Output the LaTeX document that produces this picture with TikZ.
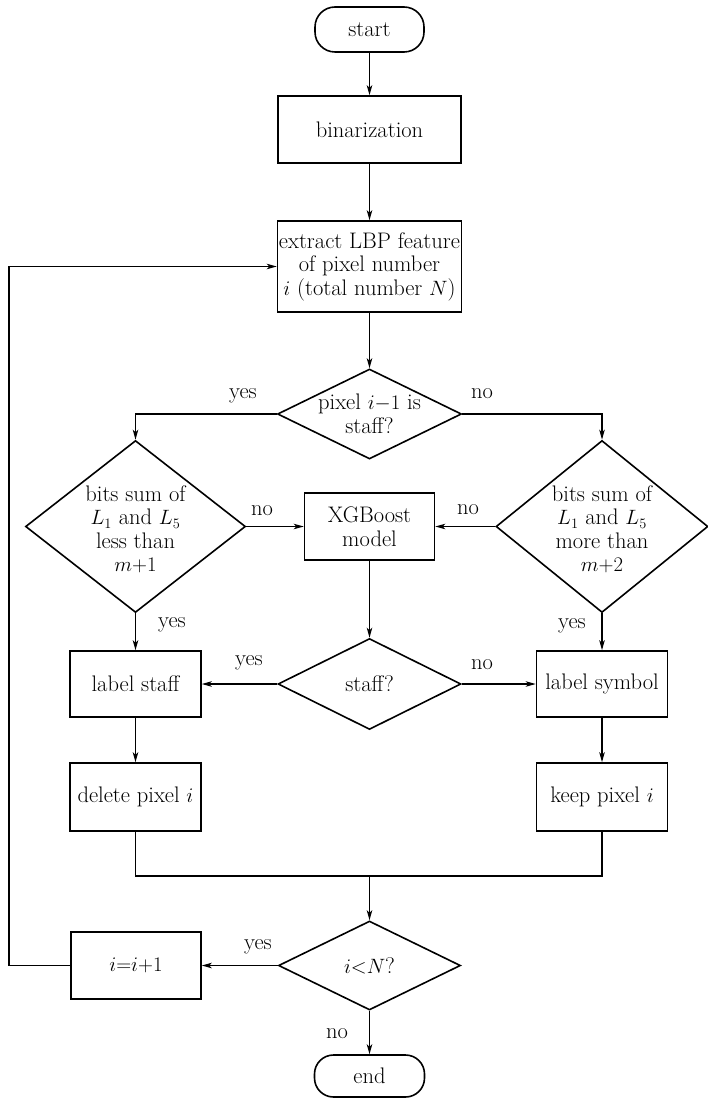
\documentclass[tikz,border=0pt]{standalone}
\usetikzlibrary{shapes.geometric,arrows.meta}
\begin{document}
\begin{tikzpicture}[x=1pt,y=1pt,
  every node/.style={font=\fontsize{22.5}{23.5}\selectfont},
  box/.style={draw,line width=1.6pt,rectangle,inner sep=0pt,align=center},
  term/.style={draw,line width=1.6pt,rectangle,rounded corners=20pt,inner sep=0pt},
  dia/.style={draw,line width=1.6pt,diamond,inner sep=0pt},
  txt/.style={align=center,inner sep=0pt},
  arr/.style={line width=1.2pt,-{Stealth[length=10pt,width=5.5pt,inset=2.5pt]}},
  ln/.style={line width=1.2pt},
  lab/.style={inner sep=0pt}]
\useasboundingbox (0,0) rectangle (708,-1099);
\node[term,minimum width=109pt,minimum height=45pt] (start) at (369.5,-29.5) {start};
\node[box,minimum width=183pt,minimum height=67pt] (bin) at (369.5,-129.5) {binarization};
\node[box,minimum width=184pt,minimum height=91pt] (ext) at (369.5,-266.5) {extract LBP feature\\of pixel number\\$i$ (total number $N$)};
\node[dia,minimum width=184pt,minimum height=90pt] (d1) at (369.5,-414) {};
\node[txt] (d1t) at (d1) {pixel $i{-}1$ is\\staff?};
\node[dia,minimum width=220pt,minimum height=172pt] (dL) at (135.5,-526.5) {};
\node[txt] (dLt) at ([yshift=-3pt]dL.center) {bits sum of\\$L_1$ and $L_5$\\less than\\$m{+}1$};
\node[dia,minimum width=212pt,minimum height=172pt] (dR) at (602,-526.5) {};
\node[txt] (dRt) at ([yshift=-3pt]dR.center) {bits sum of\\$L_1$ and $L_5$\\more than\\$m{+}2$};
\node[box,minimum width=130pt,minimum height=67pt] (xgb) at (369.5,-526.5) {XGBoost\\model};
\node[dia,minimum width=183pt,minimum height=91pt] (d2) at (369.5,-684) {};
\node[txt] (d2t) at (d2) {staff?};
\node[box,minimum width=131pt,minimum height=66pt] (ls) at (135.5,-684) {label staff};
\node[box,minimum width=131pt,minimum height=66pt] (sym) at (602,-684) {label symbol};
\node[box,minimum width=131pt,minimum height=68pt] (del) at (135.5,-797) {delete pixel $i$};
\node[box,minimum width=131pt,minimum height=68pt] (keep) at (602,-797) {keep pixel $i$};
\node[dia,minimum width=182pt,minimum height=89pt] (d3) at (369.5,-965.5) {};
\node[txt] (d3t) at (d3) {$i{<}N$?};
\node[box,minimum width=130pt,minimum height=67pt] (inc) at (136,-965.5) {$i{=}i{+}1$};
\node[term,minimum width=110pt,minimum height=42pt,rounded corners=19pt] (end) at (369.5,-1076) {end};
\coordinate (mj) at (369.5,-876);
\coordinate (lp) at (9,-965.5);
\draw[arr] (start) -- (bin);
\draw[arr] (bin) -- (ext);
\draw[arr] (ext) -- (d1);
\draw[arr] (d1.west) -| (dL.north);
\draw[arr] (d1.east) -| (dR.north);
\draw[arr] (dL.east) -- (xgb.west);
\draw[arr] (dR.west) -- (xgb.east);
\draw[arr] (xgb.south) -- (d2.north);
\draw[arr] (dL.south) -- (ls.north);
\draw[arr] (dR.south) -- (sym.north);
\draw[arr] (d2.west) -- (ls.east);
\draw[arr] (d2.east) -- (sym.west);
\draw[arr] (ls) -- (del);
\draw[arr] (sym) -- (keep);
\draw[ln] (del.south) |- (mj) -| (keep.south);
\draw[arr] (mj) -- (d3.north);
\draw[arr] (d3.west) -- (inc.east);
\draw[arr] (d3.south) -- (end.north);
\draw[arr] (inc.west) -- (lp) |- (ext.west);
\node[lab] (y1) at (243,-396) {yes};
\node[lab] (n1) at (482,-394) {no};
\node[lab] (n2) at (262,-511) {no};
\node[lab] (n3) at (468,-510) {no};
\node[lab] (y2) at (172,-625) {yes};
\node[lab] (y3) at (572,-626) {yes};
\node[lab] (y4) at (249,-663) {yes};
\node[lab] (n4) at (482,-665) {no};
\node[lab] (y5) at (258,-947) {yes};
\node[lab] (n5) at (337,-1034) {no};
\end{tikzpicture}
\end{document}
